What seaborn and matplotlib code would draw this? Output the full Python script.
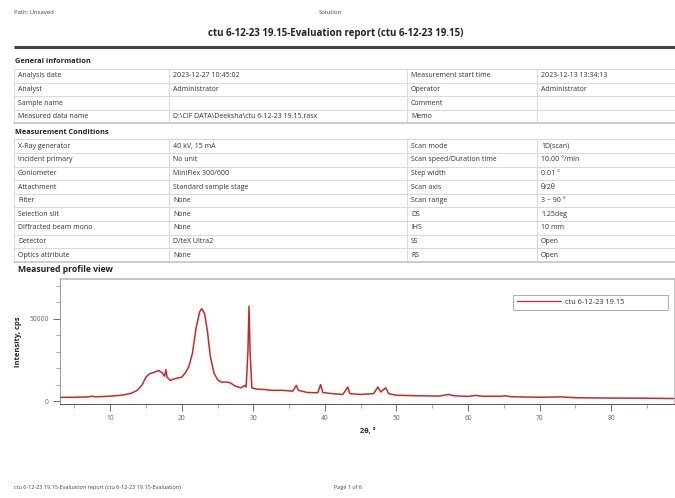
import matplotlib
matplotlib.use("Agg")
import matplotlib.pyplot as plt
import seaborn as sns
import pandas as pd
from matplotlib.ticker import MultipleLocator

sns.set_theme(style="white")
plt.rcParams["font.family"] = ["Open Sans", "DejaVu Sans"]

# ---- report text -------------------------------------------------------
header_left = "Path: Unsaved"
header_mid = "Solution"
report_title = "ctu 6-12-23 19.15-Evaluation report (ctu 6-12-23 19.15)"
footer_left = "ctu 6-12-23 19.15-Evaluation report (ctu 6-12-23 19.15-Evaluation)"
footer_mid = "Page 1 of 6"

general_labels = ["Analysis date", "Analyst", "Sample name", "Measured data name"]
general_values = ["2023-12-27 10:45:02", "Administrator", "", r"D:\CIF DATA\Deeksha\ctu 6-12-23 19.15.rasx"]
general_labels_r = ["Measurement start time", "Operator", "Comment", "Memo"]
general_values_r = ["2023-12-13 13:34:13", "Administrator", "", ""]

cond_labels = ["X-Ray generator", "Incident primary", "Goniometer", "Attachment", "Filter",
               "Selection slit", "Diffracted beam mono", "Detector", "Optics attribute"]
cond_values = ["40 kV, 15 mA", "No unit", "MiniFlex 300/600", "Standard sample stage", "None",
               "None", "None", "D/teX Ultra2", "None"]
cond_labels_r = ["Scan mode", "Scan speed/Duration time", "Step width", "Scan axis", "Scan range",
                 "DS", "IHS", "SS", "RS"]
cond_values_r = ["1D(scan)", "10.00 °/min", "0.01 °", "θ/2θ", "3 ~ 90 °",
                 "1.25deg", "10 mm", "Open", "Open"]

# ---- measured profile (2θ in degrees, intensity in cps) ----------------
two_theta = [3.0, 5.0, 7.0, 7.5, 7.8, 9.0, 10.0, 11.0, 12.0, 13.0, 13.8, 14.5, 15.0, 15.5,
             16.2, 16.8, 17.3, 17.6, 17.8, 17.95, 18.4, 19.0, 20.0, 20.5, 21.0, 21.5, 22.0,
             22.5, 22.8, 23.2, 23.6, 24.0, 24.5, 25.0, 25.5, 26.3, 26.8, 27.5, 28.3, 28.8,
             29.0, 29.25, 29.4, 29.55, 29.8, 30.5, 31.5, 32.5, 34.0, 35.5, 36.0, 36.3, 37.5,
             39.0, 39.4, 39.7, 41.0, 42.5, 43.2, 43.5, 45.0, 46.8, 47.4, 47.8, 48.5, 48.9,
             50.0, 53.0, 56.0, 57.3, 58.0, 60.0, 61.0, 62.0, 64.7, 65.2, 66.0, 70.0, 73.0,
             75.0, 80.0, 85.0, 88.9]
intensity = [2200, 2300, 2500, 3000, 2600, 2700, 3000, 3300, 3800, 4800, 6500, 10000, 14500, 16500,
             17500, 18500, 17000, 15000, 19000, 14500, 12500, 13500, 14500, 17000, 21000, 29000, 44000,
             54000, 56000, 53000, 42000, 27000, 17000, 13000, 11500, 11500, 11000, 9000, 8000, 9500,
             8500, 30000, 57500, 30000, 8000, 7200, 7000, 6500, 6500, 6000, 9500, 6500, 5200,
             5000, 10000, 5200, 4500, 4000, 8500, 4500, 4000, 4500, 8500, 5500, 8000, 4500,
             3500, 3200, 3000, 4000, 3200, 2800, 3400, 2900, 2900, 3200, 2600, 2300, 2500,
             2000, 1800, 1700, 1500]
series_name = "ctu 6-12-23 19.15"

profile = pd.DataFrame({"2θ": two_theta, "cps": intensity, "scan": series_name})

W, H = 675, 498
fig = plt.figure(figsize=(W / 100, H / 100), dpi=100)
fig.patch.set_facecolor("white")

# page layer in pixel coordinates (origin top-left)
page = fig.add_axes([0, 0, 1, 1])
page.set_xlim(0, W)
page.set_ylim(H, 0)
page.axis("off")

TXT = "#333333"
GRID = "#d9d9d9"
FS = 5.0

page.text(14, 12, header_left, fontsize=4.3, color="#444444", va="center")
page.text(330, 12, header_mid, fontsize=4.3, color="#444444", va="center", ha="center")
page.text(336, 33, report_title, fontsize=7.0, fontweight="bold", color="#222222", va="center", ha="center")
page.plot([14, W], [47, 47], color="#444444", lw=2.2, solid_capstyle="butt")

col_x = [14, 169, 407, 537, W]


def draw_table(top, rows, row_h):
    n = len(rows)
    bottom = top + n * row_h
    for k in range(n + 1):
        y = top + k * row_h
        page.plot([col_x[0], col_x[-1]], [y, y], color=GRID, lw=0.7)
    for x in col_x[:-1]:
        page.plot([x, x], [top, bottom], color=GRID, lw=0.7)
    for k, cells in enumerate(rows):
        yc = top + (k + 0.5) * row_h
        for x, s in zip(col_x[:-1], cells):
            page.text(x + 4, yc, s, fontsize=FS, color=TXT, va="center")
    # slightly heavier closing rule
    page.plot([col_x[0], col_x[-1]], [bottom, bottom], color="#c8c8c8", lw=1.2)
    return bottom


page.text(15, 61, "General information", fontsize=5.3, fontweight="bold", color="#222222", va="center")
gen_rows = list(zip(general_labels, general_values, general_labels_r, general_values_r))
b = draw_table(69, gen_rows, 13.6)

page.text(15, b + 9, "Measurement Conditions", fontsize=5.3, fontweight="bold", color="#222222", va="center")
cond_rows = list(zip(cond_labels, cond_values, cond_labels_r, cond_values_r))
b = draw_table(b + 16, cond_rows, 13.6)

page.text(18, b + 8, "Measured profile view", fontsize=6.2, fontweight="bold", color="#222222", va="center")

page.text(14, 487, footer_left, fontsize=4.0, color="#444444", va="center")
page.text(334, 487, footer_mid, fontsize=4.0, color="#444444", va="center")

# ---- profile plot ------------------------------------------------------
ax_left, ax_right, ax_top, ax_bot = 60, 675, 279, 404
ax = fig.add_axes([ax_left / W, 1 - ax_bot / H, (ax_right - ax_left) / W, (ax_bot - ax_top) / H])
sns.lineplot(data=profile, x="2θ", y="cps", hue="scan", palette=["#c42a2a"], lw=1.1, ax=ax)
ax.set_xlim(3, 88.9)
ax.set_ylim(-1800, 74000)
ax.xaxis.set_major_locator(MultipleLocator(10))
ax.xaxis.set_minor_locator(MultipleLocator(5))
ax.yaxis.set_major_locator(MultipleLocator(50000))
ax.yaxis.set_minor_locator(MultipleLocator(10000))
ax.tick_params(axis="both", which="major", direction="out", length=5, width=0.6, color="#555555",
               labelsize=4.8, labelcolor="#666666", pad=3)
ax.tick_params(axis="x", which="major", pad=3)
ax.tick_params(axis="both", which="minor", direction="out", length=3, width=0.5, color="#888888")
ax.tick_params(axis="x", which="both", bottom=True)
ax.tick_params(axis="y", which="both", left=True)
for side in ["top", "right"]:
    ax.spines[side].set_color("#bbbbbb")
    ax.spines[side].set_linewidth(1.2)
ax.spines["left"].set_color("#888888")
ax.spines["left"].set_linewidth(0.6)
ax.spines["bottom"].set_color("#555555")
ax.spines["bottom"].set_linewidth(0.7)
ax.set_xlabel("2θ, °", fontsize=5.2, fontweight="bold", color="#222222", labelpad=4)
ax.set_ylabel("Intensity, cps", fontsize=5.4, fontweight="bold", color="#222222")
ax.yaxis.set_label_coords(-0.062, 0.5)
leg = ax.legend(loc="upper left", bbox_to_anchor=(0.73, 0.0, 0.265, 0.905), mode="expand",
                fontsize=5.3, frameon=True, fancybox=False, handlelength=6.0, handletextpad=0.5,
                borderpad=0.55, title=None)
leg.get_frame().set_edgecolor("#888888")
leg.get_frame().set_linewidth(0.6)
for t in leg.get_texts():
    t.set_color("#333333")
for line in leg.get_lines():
    line.set_linewidth(0.9)

fig.savefig("out.png", dpi=100, facecolor="white")
